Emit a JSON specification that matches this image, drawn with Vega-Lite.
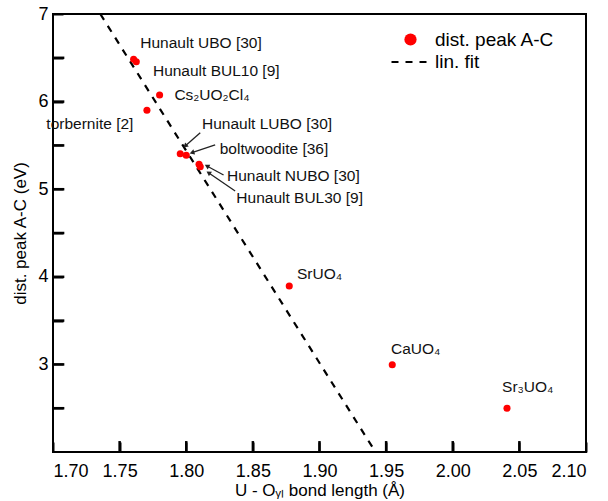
{
  "$schema": "https://vega.github.io/schema/vega-lite/v6.json",
  "width": 533,
  "height": 438,
  "padding": {"left": 11, "top": 5, "right": 5, "bottom": 5},
  "config": {
    "font": "Liberation Sans",
    "view": {"stroke": "black", "strokeWidth": 2},
    "axis": {
      "domain": false, "grid": false, "labelColor": "black", "titleColor": "black",
      "labelFontSize": 18, "titleFontSize": 17, "titleFontWeight": "normal", "labelFont": "Liberation Sans", "titleFont": "Liberation Sans"
    },
    "legend": {"labelFont": "Liberation Sans", "labelColor": "black"}
  },
  "datasets": {
    "points": [
      {"name": "Hunault UBO [30]", "x": 1.7605, "y": 6.483},
      {"name": "Hunault BUL10 [9]", "x": 1.7625, "y": 6.455},
      {"name": "Cs2UO2Cl4", "x": 1.780, "y": 6.075},
      {"name": "torbernite [2]", "x": 1.7705, "y": 5.901},
      {"name": "Hunault LUBO [30]", "x": 1.7955, "y": 5.405},
      {"name": "boltwoodite [36]", "x": 1.800, "y": 5.387},
      {"name": "Hunault NUBO [30]", "x": 1.8096, "y": 5.284},
      {"name": "Hunault BUL30 [9]", "x": 1.8105, "y": 5.257},
      {"name": "SrUO4", "x": 1.8773, "y": 3.895},
      {"name": "CaUO4", "x": 1.9546, "y": 2.997},
      {"name": "Sr3UO4", "x": 2.0407, "y": 2.499}
    ],
    "labels": [
      {"text": "Hunault UBO [30]", "lx": 1.7655, "ly": 6.669},
      {"text": "Hunault BUL10 [9]", "lx": 1.7750, "ly": 6.349},
      {"text": "Cs₂UO₂Cl₄", "lx": 1.7911, "ly": 6.075},
      {"text": "torbernite [2]", "lx": 1.6950, "ly": 5.744},
      {"text": "Hunault LUBO [30]", "lx": 1.8118, "ly": 5.741},
      {"text": "boltwoodite [36]", "lx": 1.8251, "ly": 5.455},
      {"text": "Hunault NUBO [30]", "lx": 1.8306, "ly": 5.151},
      {"text": "Hunault BUL30 [9]", "lx": 1.8376, "ly": 4.896},
      {"text": "SrUO₄", "lx": 1.8831, "ly": 4.029},
      {"text": "CaUO₄", "lx": 1.9537, "ly": 3.179},
      {"text": "Sr₃UO₄", "lx": 2.0370, "ly": 2.742}
    ],
    "arrows": [
      {"tx": 1.8105, "ty": 5.645, "hx": 1.7992, "hy": 5.493},
      {"tx": 1.8217, "ty": 5.505, "hx": 1.8043, "hy": 5.417},
      {"tx": 1.8280, "ty": 5.162, "hx": 1.8155, "hy": 5.265},
      {"tx": 1.8367, "ty": 4.979, "hx": 1.8167, "hy": 5.188}
    ],
    "fit": [
      {"x": 1.7355, "y": 7.0},
      {"x": 1.9420, "y": 2.0}
    ],
    "xticks": [{"v": 1.75}, {"v": 1.8}, {"v": 1.85}, {"v": 1.9}, {"v": 1.95}, {"v": 2.0}, {"v": 2.05}],
    "yticks": [{"v": 2.5}, {"v": 3}, {"v": 3.5}, {"v": 4}, {"v": 4.5}, {"v": 5}, {"v": 5.5}, {"v": 6}, {"v": 6.5}]
  },
  "layer": [
    {
      "data": {"name": "fit"},
      "mark": {"type": "line", "color": "black", "strokeWidth": 2.2, "clip": true},
      "encoding": {
        "x": {"field": "x", "type": "quantitative", "scale": {"domain": [1.7, 2.1], "nice": false, "zero": false},
          "axis": {"values": [1.7, 1.75, 1.8, 1.85, 1.9, 1.95, 2.0, 2.05, 2.1], "format": ".2f", "offset": -10, "tickSize": 10, "tickColor": "black", "tickWidth": 2, "labelPadding": 10, "title": "U  - Oᵧₗ bond length (Å)", "titlePadding": 2}},
        "y": {"field": "y", "type": "quantitative", "scale": {"domain": [2, 7], "nice": false, "zero": false},
          "axis": {"values": [2.5, 3, 3.5, 4, 4.5, 5, 5.5, 6, 6.5, 7], "labelExpr": "datum.value % 1 == 0 ? format(datum.value, 'd') : ''", "offset": -10, "tickSize": 10, "tickColor": "black", "tickWidth": 2, "labelPadding": 5, "title": "dist. peak A-C (eV)", "titlePadding": 8, "minExtent": 26, "maxExtent": 26}},
        "strokeDash": {"datum": "lin. fit", "type": "nominal", "scale": {"range": [[7, 7]]},
          "legend": {"orient": "none", "legendX": 337, "legendY": 29, "title": null, "symbolType": "stroke", "symbolSize": 1225, "symbolStrokeWidth": 2.2, "symbolStrokeColor": "black", "labelFontSize": 19, "labelOffset": 7, "padding": 0}}
      }
    },
    {
      "data": {"name": "xticks"},
      "mark": {"type": "rule", "color": "black", "strokeWidth": 2.5, "opacity": 1},
      "encoding": {
        "x": {"field": "v", "type": "quantitative"},
        "y": {"datum": 2},
        "y2": {"datum": 2.125}
      }
    },
    {
      "data": {"name": "yticks"},
      "mark": {"type": "rule", "color": "black", "strokeWidth": 2.5, "opacity": 1},
      "encoding": {
        "y": {"field": "v", "type": "quantitative"},
        "x": {"datum": 1.7},
        "x2": {"datum": 1.7085}
      }
    },
    {
      "data": {"name": "arrows"},
      "mark": {"type": "rule", "color": "#222", "strokeWidth": 1.3},
      "encoding": {
        "x": {"field": "tx", "type": "quantitative"},
        "y": {"field": "ty", "type": "quantitative"},
        "x2": {"field": "hx"},
        "y2": {"field": "hy"}
      }
    },
    {
      "data": {"name": "arrows"},
      "transform": [{"calculate": "atan2((datum.hx - datum.tx) * 1332.5, (datum.hy - datum.ty) * 87.6) * 180 / PI", "as": "ang"}],
      "mark": {"type": "point", "shape": "triangle-up", "filled": true, "color": "#222", "size": 30, "opacity": 1},
      "encoding": {
        "x": {"field": "hx", "type": "quantitative"},
        "y": {"field": "hy", "type": "quantitative"},
        "angle": {"field": "ang", "type": "quantitative", "scale": null}
      }
    },
    {
      "data": {"name": "points"},
      "mark": {"type": "circle", "size": 50, "opacity": 1},
      "encoding": {
        "x": {"field": "x", "type": "quantitative"},
        "y": {"field": "y", "type": "quantitative"},
        "color": {"datum": "dist. peak A-C", "type": "nominal", "scale": {"range": ["#ff0000"]},
          "legend": {"orient": "none", "legendX": 348, "legendY": 16, "title": null, "symbolType": "circle", "symbolSize": 150, "labelFontSize": 19, "labelOffset": 15, "padding": 0}}
      }
    },
    {
      "data": {"name": "labels"},
      "mark": {"type": "text", "align": "left", "baseline": "middle", "fontSize": 15.5, "color": "#111", "font": "Liberation Sans"},
      "encoding": {
        "x": {"field": "lx", "type": "quantitative"},
        "y": {"field": "ly", "type": "quantitative"},
        "text": {"field": "text"}
      }
    }
  ]
}
